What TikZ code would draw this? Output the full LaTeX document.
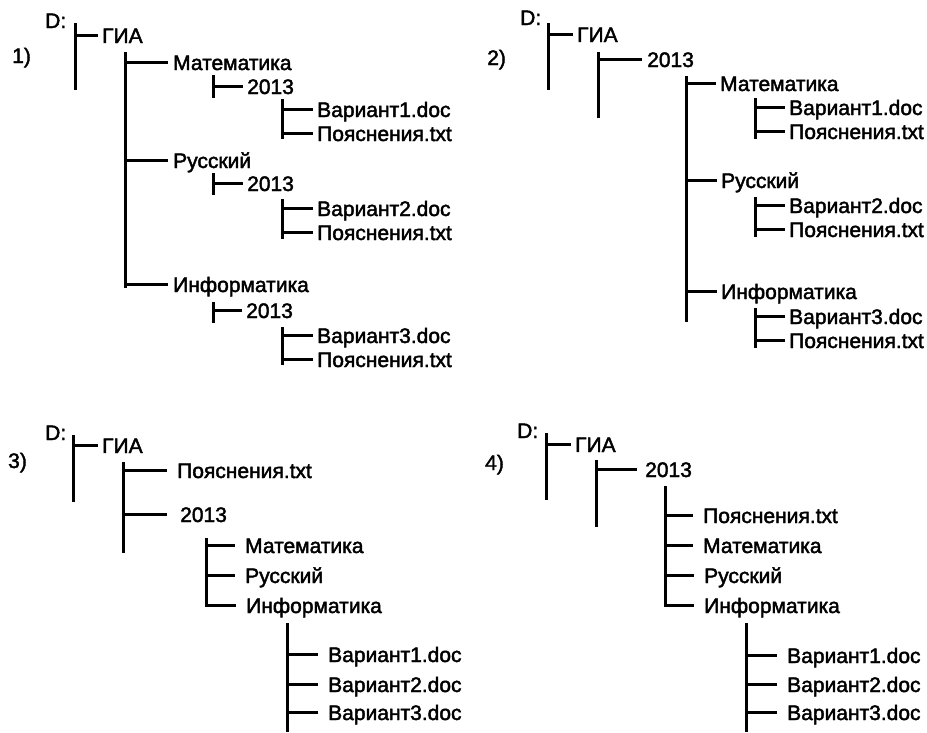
\documentclass[tikz,border=0pt]{standalone}
\usepackage{fontspec}
\setmainfont{Liberation Sans}[FakeBold=2]
\begin{document}
\begin{tikzpicture}[x=1pt,y=-1pt,
  lab/.style={anchor=base west, inner sep=0pt, text height=15pt, text depth=0pt, font=\fontsize{21}{21}\selectfont},
  trunk/.style={line width=3pt},
  br/.style={line width=2.6pt},
  g4/.style={br, shorten >=4pt},
  g5/.style={br, shorten >=5pt},
  g10/.style={br, shorten >=10pt}]
\useasboundingbox (0,0) rectangle (927,732);
% ---------------- 1 ----------------
\node[lab] (D1) at (45,28) {D:};
\node[lab] (L1) at (12,63) {1)};
\node[lab] (G1) at (102,43) {ГИА};
\node[lab] (M1) at (173,70) {Математика};
\node[lab] (Y1a) at (247,94) {2013};
\node[lab] (V1a) at (317,117) {Вариант1.doc};
\node[lab] (P1a) at (317,141) {Пояснения.txt};
\node[lab] (R1) at (173,168) {Русский};
\node[lab] (Y1b) at (247,191) {2013};
\node[lab] (V1b) at (317,216) {Вариант2.doc};
\node[lab] (P1b) at (317,240) {Пояснения.txt};
\node[lab] (I1) at (173,292) {Информатика};
\node[lab] (Y1c) at (246,318) {2013};
\node[lab] (V1c) at (317,343) {Вариант3.doc};
\node[lab] (P1c) at (317,367) {Пояснения.txt};
\coordinate (a1t) at (75,23);  \coordinate (a1b) at (75,90);
\coordinate (b1t) at (125,52); \coordinate (b1b) at (125,288);
\coordinate (c1t) at (213,75); \coordinate (c1b) at (213,98);
\coordinate (d1t) at (282,99); \coordinate (d1b) at (282,139);
\coordinate (c2t) at (213,173); \coordinate (c2b) at (213,195);
\coordinate (d2t) at (282,199); \coordinate (d2b) at (282,239);
\coordinate (c3t) at (213,302); \coordinate (c3b) at (213,323);
\coordinate (d3t) at (282,327); \coordinate (d3b) at (282,365);
\foreach \t in {a1,b1,c1,d1,c2,d2,c3,d3} \draw[trunk] (\t t) -- (\t b);
\draw[g4] (a1t |- G1.west) -- (G1.west);
\draw[g5] (b1t |- M1.west) -- (M1.west);
\draw[g5] (b1t |- R1.west) -- (R1.west);
\draw[g5] (b1t |- I1.west) -- (I1.west);
\draw[g4] (c1t |- Y1a.west) -- (Y1a.west);
\draw[g4] (c2t |- Y1b.west) -- (Y1b.west);
\draw[g4] (c3t |- Y1c.west) -- (Y1c.west);
\draw[g4] (d1t |- V1a.west) -- (V1a.west);
\draw[g4] (d1t |- P1a.west) -- (P1a.west);
\draw[g4] (d2t |- V1b.west) -- (V1b.west);
\draw[g4] (d2t |- P1b.west) -- (P1b.west);
\draw[g4] (d3t |- V1c.west) -- (V1c.west);
\draw[g4] (d3t |- P1c.west) -- (P1c.west);
% ---------------- 2 ----------------
\node[lab] (D2) at (520,25) {D:};
\node[lab] (L2) at (487,65) {2)};
\node[lab] (G2) at (577,42) {ГИА};
\node[lab] (Y2) at (647,67) {2013};
\node[lab] (M2) at (720,91) {Математика};
\node[lab] (V2a) at (789,115) {Вариант1.doc};
\node[lab] (P2a) at (789,139) {Пояснения.txt};
\node[lab] (R2) at (721,188) {Русский};
\node[lab] (V2b) at (789,213) {Вариант2.doc};
\node[lab] (P2b) at (789,237) {Пояснения.txt};
\node[lab] (I2) at (721,299) {Информатика};
\node[lab] (V2c) at (789,324) {Вариант3.doc};
\node[lab] (P2c) at (789,348) {Пояснения.txt};
\coordinate (a2t) at (548,23);  \coordinate (a2b) at (548,90);
\coordinate (b2t) at (598,52);  \coordinate (b2b) at (598,118);
\coordinate (c2xt) at (686,76); \coordinate (c2xb) at (686,322);
\coordinate (e1t) at (755,98);  \coordinate (e1b) at (755,139);
\coordinate (e2t) at (755,197); \coordinate (e2b) at (755,237);
\coordinate (e3t) at (755,308); \coordinate (e3b) at (755,348);
\foreach \t in {a2,b2,c2x,e1,e2,e3} \draw[trunk] (\t t) -- (\t b);
\draw[g4] (a2t |- G2.west) -- (G2.west);
\draw[g5] (b2t |- Y2.west) -- (Y2.west);
\draw[g4] (c2xt |- M2.west) -- (M2.west);
\draw[g4] (c2xt |- R2.west) -- (R2.west);
\draw[g4] (c2xt |- I2.west) -- (I2.west);
\draw[g4] (e1t |- V2a.west) -- (V2a.west);
\draw[g4] (e1t |- P2a.west) -- (P2a.west);
\draw[g4] (e2t |- V2b.west) -- (V2b.west);
\draw[g4] (e2t |- P2b.west) -- (P2b.west);
\draw[g4] (e3t |- V2c.west) -- (V2c.west);
\draw[g4] (e3t |- P2c.west) -- (P2c.west);
% ---------------- 3 ----------------
\node[lab] (D3) at (45,440) {D:};
\node[lab] (L3) at (8,468) {3)};
\node[lab] (G3) at (102,453) {ГИА};
\node[lab] (P3) at (177,478) {Пояснения.txt};
\node[lab] (Y3) at (180,522) {2013};
\node[lab] (M3) at (245,553) {Математика};
\node[lab] (R3) at (245,583) {Русский};
\node[lab] (I3) at (246,613) {Информатика};
\node[lab] (V3a) at (328,662) {Вариант1.doc};
\node[lab] (V3b) at (328,692) {Вариант2.doc};
\node[lab] (V3c) at (328,720) {Вариант3.doc};
\coordinate (a3t) at (73,435);  \coordinate (a3b) at (73,502);
\coordinate (b3t) at (123,462); \coordinate (b3b) at (123,553);
\coordinate (c3xt) at (206,538); \coordinate (c3xb) at (206,607);
\coordinate (d3xt) at (287,623); \coordinate (d3xb) at (287,732);
\foreach \t in {a3,b3,c3x,d3x} \draw[trunk] (\t t) -- (\t b);
\draw[g4] (a3t |- G3.west) -- (G3.west);
\draw[g10] (b3t |- P3.west) -- (P3.west);
\draw[br, shorten >=13pt] (b3t |- Y3.west) -- (Y3.west);
\draw[g10] (c3xt |- M3.west) -- (M3.west);
\draw[g10] (c3xt |- R3.west) -- (R3.west);
\draw[g10] (c3xt |- I3.west) -- (I3.west);
\draw[g10] (d3xt |- V3a.west) -- (V3a.west);
\draw[g10] (d3xt |- V3b.west) -- (V3b.west);
\draw[g10] (d3xt |- V3c.west) -- (V3c.west);
% ---------------- 4 ----------------
\node[lab] (D4) at (517,438) {D:};
\node[lab] (L4) at (485,470) {4)};
\node[lab] (G4) at (575,452) {ГИА};
\node[lab] (Y4) at (645,477) {2013};
\node[lab] (P4) at (703,523) {Пояснения.txt};
\node[lab] (M4) at (703,553) {Математика};
\node[lab] (R4) at (704,583) {Русский};
\node[lab] (I4) at (704,613) {Информатика};
\node[lab] (V4a) at (787,663) {Вариант1.doc};
\node[lab] (V4b) at (787,692) {Вариант2.doc};
\node[lab] (V4c) at (787,720) {Вариант3.doc};
\coordinate (a4t) at (546,433); \coordinate (a4b) at (546,500);
\coordinate (b4t) at (596,460); \coordinate (b4b) at (596,527);
\coordinate (c4t) at (665,486); \coordinate (c4b) at (665,607);
\coordinate (d4t) at (746,623); \coordinate (d4b) at (746,732);
\foreach \t in {a4,b4,c4,d4} \draw[trunk] (\t t) -- (\t b);
\draw[g4] (a4t |- G4.west) -- (G4.west);
\draw[br, shorten >=8pt] (b4t |- Y4.west) -- (Y4.west);
\draw[g10] (c4t |- P4.west) -- (P4.west);
\draw[g10] (c4t |- M4.west) -- (M4.west);
\draw[g10] (c4t |- R4.west) -- (R4.west);
\draw[g10] (c4t |- I4.west) -- (I4.west);
\draw[g10] (d4t |- V4a.west) -- (V4a.west);
\draw[g10] (d4t |- V4b.west) -- (V4b.west);
\draw[g10] (d4t |- V4c.west) -- (V4c.west);
\end{tikzpicture}
\end{document}
